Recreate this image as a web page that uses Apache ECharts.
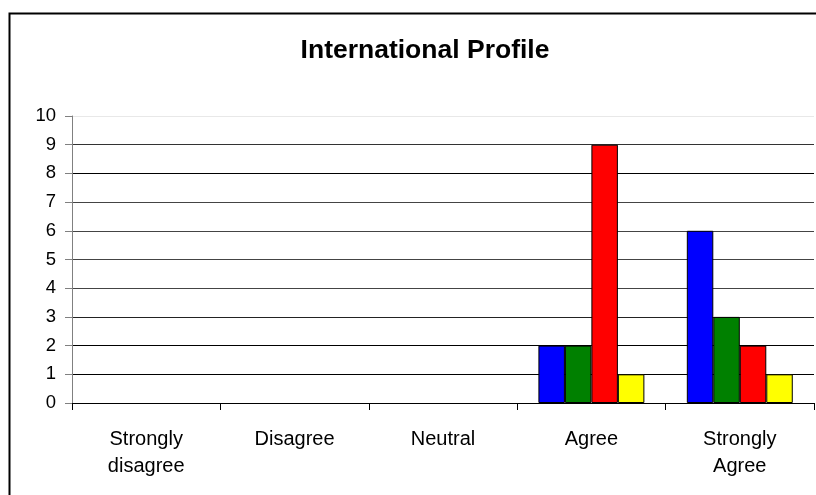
<!DOCTYPE html>
<html>
<head>
<meta charset="utf-8">
<script src="https://cdn.jsdelivr.net/npm/echarts@6/dist/echarts.min.js"></script>
<style>
html,body{margin:0;padding:0;background:#fff;}
#chart{width:816px;height:495px;}
</style>
</head>
<body>
<div id="chart"></div>
<script>
var categories = ['Strongly\ndisagree', 'Disagree', 'Neutral', 'Agree', 'Strongly\nAgree'];
var seriesBlue = [0, 0, 0, 2, 6];
var seriesGreen = [0, 0, 0, 2, 3];
var seriesRed = [0, 0, 0, 9, 2];
var seriesYellow = [0, 0, 0, 1, 1];
var yTicks = [0, 1, 2, 3, 4, 5, 6, 7, 8, 9, 10];

var chart = echarts.init(document.getElementById('chart'), null, {renderer: 'canvas'});
var font = 'Liberation Sans, Arial, sans-serif';
function bar(name, data, color) {
  return {
    name: name, type: 'bar',
    data: data.map(function (v) {
      return v === 0 ? {value: v, itemStyle: {borderWidth: 0}} : v;
    }),
    barGap: '0%', barCategoryGap: '28.6%',
    itemStyle: {color: color, borderColor: '#000', borderWidth: 1},
    animation: false
  };
}
var option = {
  animation: false,
  backgroundColor: '#fff',
  title: {
    text: 'International Profile',
    left: 420, top: 32, textAlign: 'center',
    textStyle: {fontFamily: font, fontWeight: 'bold', fontSize: 26.5, color: '#000'}
  },
  graphic: [{
    type: 'rect', left: 7, top: 11,
    shape: {x: 0, y: 0, width: 830, height: 500},
    style: {fill: 'none', stroke: '#000', lineWidth: 2},
    silent: true, z: 100
  }],
  grid: {left: 72, right: 2, top: 116, bottom: 92, containLabel: false},
  xAxis: {
    type: 'category', data: categories, boundaryGap: true,
    axisLine: {show: true, lineStyle: {color: '#000', width: 1}},
    axisTick: {show: true, alignWithLabel: false, length: 7, lineStyle: {color: '#000'}},
    axisLabel: {interval: 0, margin: 23, fontFamily: font, fontSize: 20, color: '#000', lineHeight: 27, align: 'center'},
    splitLine: {show: false}
  },
  yAxis: {
    type: 'value', min: yTicks[0], max: yTicks[yTicks.length - 1], interval: 1,
    axisLine: {show: true, lineStyle: {color: '#808080', width: 1}},
    axisTick: {show: true, length: 7, lineStyle: {color: '#808080'}},
    axisLabel: {margin: 16, fontFamily: font, fontSize: 18.5, color: '#000',
      formatter: function (v) { return yTicks.indexOf(v) >= 0 ? String(v) : ''; }},
    splitLine: {show: true, lineStyle: {color: ['#000','#000','#000','#222','#444','#444','#444','#444','#000','#333','#e8e8e8'], width: 1}}
  },
  series: [
    bar('Series 1', seriesBlue, '#0000FF'),
    bar('Series 2', seriesGreen, '#008000'),
    bar('Series 3', seriesRed, '#FF0000'),
    bar('Series 4', seriesYellow, '#FFFF00')
  ]
};
chart.setOption(option);
</script>
</body>
</html>
